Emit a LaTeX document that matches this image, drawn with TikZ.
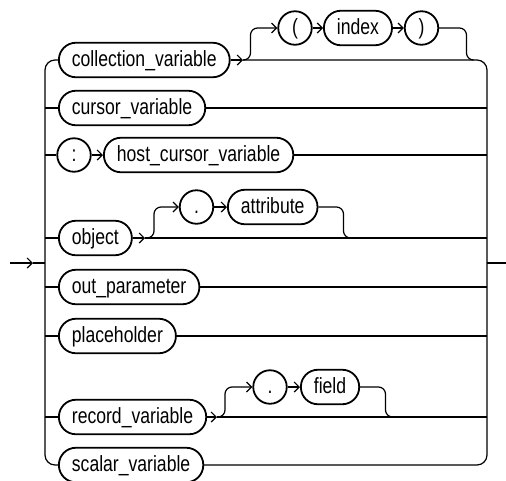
\documentclass[tikz,border=0pt]{standalone}
\usepackage{fontspec}
\setmainfont[FakeStretch=0.8]{Liberation Sans}
\usetikzlibrary{arrows.meta,calc}
\begin{document}
\begin{tikzpicture}[x=1pt,y=-1pt,
  font=\fontsize{22pt}{26pt}\selectfont,
  line width=1.2pt,
  pill/.style={draw, line width=1.8pt, rounded corners=17pt, minimum height=34.5pt,
    inner xsep=13pt, inner ysep=0pt, text height=16.5pt, text depth=4pt, anchor=west},
  termc/.style={draw, line width=1.8pt, circle, minimum size=33.5pt, inner sep=0pt,
    text height=16.5pt, text depth=4pt},
  arr/.style={-{Straight Barb[length=5pt,width=10pt]}},
  curvy/.style={rounded corners=7pt}]
\useasboundingbox (0,0) rectangle (506,480);
% rails
\coordinate (railL) at (45,263);
\coordinate (railR) at (487,263);
\coordinate (in0) at (10,263);
\coordinate (in1) at (33,263);
\coordinate (out) at (506,263);
% nodes
\node[pill] (cv) at (58,60) {collection\_variable};
\node[pill] (cur) at (58,108) {cursor\_variable};
\node[termc] (colon) at (74,155) {:};
\node[pill] (host) at (103,155) {host\_cursor\_variable};
\node[pill] (obj) at (58,238) {object};
\node[pill] (outp) at (58,287) {out\_parameter};
\node[pill] (ph) at (58,336) {placeholder};
\node[pill] (rv) at (58,417) {record\_variable};
\node[pill] (sv) at (58,465) {scalar\_variable};
\node[termc] (lp) at (295,28) {(};
\node[pill] (idx) at (323,28) {index};
\node[termc] (rp) at (421.5,28) {)};
\node[termc] (dot1) at (196.5,207) {.};
\node[pill] (att) at (227,207) {attribute};
\node[termc] (dot2) at (270,387) {.};
\node[pill] (fld) at (300,387) {field};
% split / join points
\coordinate (s1) at (243,60);
\coordinate (s1m) at (250.5,44);
\coordinate (j1m) at (466.5,44);
\coordinate (j1) at (473,60);
\coordinate (s4) at (145,238);
\coordinate (s4m) at (154,222);
\coordinate (j4m) at (343.5,222);
\coordinate (j4) at (350,238);
\coordinate (s7) at (217,417);
\coordinate (s7m) at (225,402);
\coordinate (j7m) at (385.5,402);
\coordinate (j7) at (393,417);
% entry and exit
\draw[arr] (in0) -- (in1);
\draw (in1) -- (railL);
\draw (railR) -- (out);
% left rail
\draw[rounded corners=10pt] (cv.west) -| (railL) |- (sv.west);
\draw (cur.west -| railL) -- (cur.west);
\draw (colon.west -| railL) -- (colon.west);
\draw (obj.west -| railL) -- (obj.west);
\draw (outp.west -| railL) -- (outp.west);
\draw (ph.west -| railL) -- (ph.west);
\draw (rv.west -| railL) -- (rv.west);
% right rail with first and last rows
\draw[arr] (cv.east) -- (s1);
\draw[rounded corners=10pt] (s1) -| (railR) |- (sv.east);
\draw (cur.east) -- (cur.east -| railR);
\draw[arr] (colon) -- (host);
\draw (host.east) -- (host.east -| railR);
\draw[arr] (obj.east) -- (s4);
\draw (s4) -- (s4 -| railR);
\draw (outp.east) -- (outp.east -| railR);
\draw (ph.east) -- (ph.east -| railR);
\draw[arr] (rv.east) -- (s7);
\draw (s7) -- (s7 -| railR);
% branch: ( index )
\draw[arr,curvy] (s1) -| (s1m) |- (lp.west);
\draw[arr] (lp) -- (idx);
\draw[arr] (idx) -- (rp);
\draw[curvy] (rp.east) -| (j1m) |- (j1);
% branch: . attribute
\draw[arr,curvy] (s4) -| (s4m) |- (dot1.west);
\draw[arr] (dot1) -- (att);
\draw[curvy] (att.east) -| (j4m) |- (j4);
% branch: . field
\draw[arr,curvy] (s7) -| (s7m) |- (dot2.west);
\draw[arr] (dot2) -- (fld);
\draw[curvy] (fld.east) -| (j7m) |- (j7);
\end{tikzpicture}
\end{document}
